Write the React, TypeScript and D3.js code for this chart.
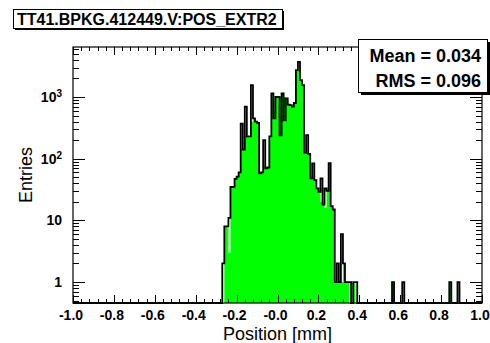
import React, { useRef, useEffect } from "react";
import * as d3 from "d3";

const BIN_WIDTH = 0.01;
const CORE_START = -0.27;

// green filled histogram, one value per 0.01 bin starting at -0.27
const fillCounts = [0, 8, 8, 3, 35, 35, 47, 51, 60, 140, 140, 240, 230, 230, 400, 450, 400, 380, 58, 60, 75, 70, 72, 230, 1140, 600, 1000, 1000, 1000, 1140, 1000, 950, 750, 740, 700, 800, 2730, 2700, 1880, 1560, 125, 125, 120, 48, 50, 45, 33, 29, 20, 18, 16, 30, 85, 17, 15, 1, 1, 1, 1, 2, 1, 1, 0, 0, 1, 0];
// black line histogram over the same bins
const lineCounts = [2, 8, 8, 11, 35, 35, 47, 51, 60, 370, 140, 700, 230, 230, 1560, 450, 400, 380, 58, 60, 200, 70, 72, 230, 1140, 450, 1000, 1000, 240, 1140, 420, 950, 750, 740, 700, 800, 2730, 3720, 1880, 1560, 125, 240, 120, 48, 84, 45, 33, 29, 48, 18, 33, 30, 85, 17, 15, 1, 2, 1, 6, 2, 1, 1, 1, 0, 1, 1];

// isolated entries far from the core
const strayEdges = [0.56, 0.61, 0.84, 0.88];
const strayFill = [1, 0, 1, 0];
const strayLine = [1, 1, 1, 1];

const xTickLabels = ["-1.0", "-0.8", "-0.6", "-0.4", "-0.2", "-0.0", "0.2", "0.4", "0.6", "0.8", "1.0"];
const yDecades = [1, 10, 100, 1000];

const title = "TT41.BPKG.412449.V:POS_EXTR2";
const statLines = ["Mean = 0.034", "RMS = 0.096"];

const FONT = "Liberation Sans, Arial, Helvetica, sans-serif";

const App = () => {
  const svgRef = useRef<SVGSVGElement>(null);

  useEffect(() => {
    const svg = d3.select(svgRef.current);
    svg.selectAll("*").remove();

    const width = 490, height = 343;
    const frame = { left: 73, right: 482, top: 47, bottom: 303 };
    const yMin = 0.457, yMax = 6470;

    const x = d3.scaleLinear().domain([-1, 1]).range([frame.left, frame.right]);
    const y = d3.scaleLog().domain([yMin, yMax]).range([frame.bottom, frame.top]);

    const nBins = Math.round(2 / BIN_WIDTH);
    const bins = d3.range(nBins).map(i => ({ x0: -1 + i * BIN_WIDTH, fill: 0, line: 0 }));
    const idx = (edge: number) => Math.round((edge + 1) / BIN_WIDTH);
    fillCounts.forEach((v, i) => { bins[idx(CORE_START) + i].fill = v; });
    lineCounts.forEach((v, i) => { bins[idx(CORE_START) + i].line = v; });
    strayEdges.forEach((e, i) => { bins[idx(e)].fill = strayFill[i]; bins[idx(e)].line = strayLine[i]; });
    const last = bins[bins.length - 1];
    const steps = [...bins, { x0: 1, fill: last.fill, line: last.line }];

    const yv = (v: number) => y(Math.max(v, yMin));

    svg.attr("width", width).attr("height", height);
    svg.append("rect").attr("width", width).attr("height", height).attr("fill", "#fff");

    svg.append("path")
      .datum(steps)
      .attr("fill", "#00ff00")
      .attr("d", d3.area<any>().curve(d3.curveStepAfter).x(d => x(d.x0)).y0(frame.bottom).y1(d => yv(d.fill)));

    svg.append("path")
      .datum(steps)
      .attr("fill", "none")
      .attr("stroke", "#000")
      .attr("stroke-width", 1.8)
      .attr("d", d3.line<any>().curve(d3.curveStepAfter).x(d => x(d.x0)).y(d => yv(d.line)));

    svg.append("rect")
      .attr("x", frame.left).attr("y", frame.top)
      .attr("width", frame.right - frame.left).attr("height", frame.bottom - frame.top)
      .attr("fill", "none").attr("stroke", "#000").attr("stroke-width", 1.2);

    const ticks = svg.append("g").attr("stroke", "#000").attr("stroke-width", 1);

    // x ticks, bottom and top
    d3.range(0, 51).forEach(k => {
      const v = -1 + k * 0.04;
      const major = k % 5 === 0;
      const len = major ? 8 : 4;
      const px = Math.round(x(v)) + 0.5;
      ticks.append("line").attr("x1", px).attr("x2", px).attr("y1", frame.bottom).attr("y2", frame.bottom - len);
      ticks.append("line").attr("x1", px).attr("x2", px).attr("y1", frame.top).attr("y2", frame.top + len);
    });

    // y ticks, left and right
    const yTicks: { v: number; major: boolean }[] = [];
    [0.1, 1, 10, 100, 1000].forEach(dec => {
      for (let m = 1; m <= 9; m++) {
        const v = dec * m;
        if (v >= yMin && v <= yMax) yTicks.push({ v, major: m === 1 });
      }
    });
    yTicks.forEach(t => {
      const len = t.major ? 12 : 6;
      const py = Math.round(y(t.v)) + 0.5;
      ticks.append("line").attr("x1", frame.left).attr("x2", frame.left + len).attr("y1", py).attr("y2", py);
      ticks.append("line").attr("x1", frame.right).attr("x2", frame.right - len).attr("y1", py).attr("y2", py);
    });

    // x labels
    svg.append("g").selectAll("text")
      .data(xTickLabels)
      .enter()
      .append("text")
      .attr("x", (d, i) => x(-1 + i * 0.2) - 2)
      .attr("y", 320)
      .attr("text-anchor", "middle")
      .attr("font-family", FONT).attr("font-weight", "bold").attr("font-size", 14)
      .text(d => d);

    // y labels
    const yl = svg.append("g").attr("font-family", FONT).attr("font-weight", "bold").attr("font-size", 14);
    yDecades.forEach(v => {
      const exp = Math.round(Math.log10(v));
      const t = yl.append("text").attr("x", 62).attr("y", y(v) + 5).attr("text-anchor", "end");
      if (exp <= 1) t.text(String(v));
      else {
        t.append("tspan").text("10");
        t.append("tspan").attr("dy", -5).attr("font-size", 10).text(String(exp));
      }
    });

    svg.append("text")
      .attr("x", x(0)).attr("y", 340)
      .attr("text-anchor", "middle")
      .attr("font-family", FONT).attr("font-size", 18)
      .text("Position [mm]");

    svg.append("text")
      .attr("transform", `translate(32,${(frame.top + frame.bottom) / 2}) rotate(-90)`)
      .attr("text-anchor", "middle")
      .attr("font-family", FONT).attr("font-size", 18)
      .text("Entries");

    // title box
    const tb = { x: 13, y: 9, w: 269, h: 19 };
    svg.append("rect").attr("x", tb.x + 2).attr("y", tb.y + 2).attr("width", tb.w).attr("height", tb.h).attr("fill", "#000");
    svg.append("rect").attr("x", tb.x + 0.5).attr("y", tb.y + 0.5).attr("width", tb.w).attr("height", tb.h)
      .attr("fill", "#fff").attr("stroke", "#000");
    svg.append("text")
      .attr("x", tb.x + 4).attr("y", tb.y + 16)
      .attr("font-family", FONT).attr("font-weight", "bold").attr("font-size", 16)
      .text(title);

    // stats box
    const sb = { x: 358, y: 39, w: 129, h: 53 };
    svg.append("rect").attr("x", sb.x + 3).attr("y", sb.y + 3).attr("width", sb.w).attr("height", sb.h).attr("fill", "#000");
    svg.append("rect").attr("x", sb.x + 0.5).attr("y", sb.y + 0.5).attr("width", sb.w).attr("height", sb.h)
      .attr("fill", "#fff").attr("stroke", "#000");
    svg.append("g").selectAll("text")
      .data(statLines)
      .enter()
      .append("text")
      .attr("x", 481)
      .attr("y", (d, i) => 62 + i * 25)
      .attr("text-anchor", "end")
      .attr("font-family", FONT).attr("font-weight", "bold").attr("font-size", 18)
      .text(d => d);
  }, []);

  return <svg ref={svgRef} style={{ position: "absolute", left: 0, top: 0, display: "block" }}></svg>;
};

export default App;
